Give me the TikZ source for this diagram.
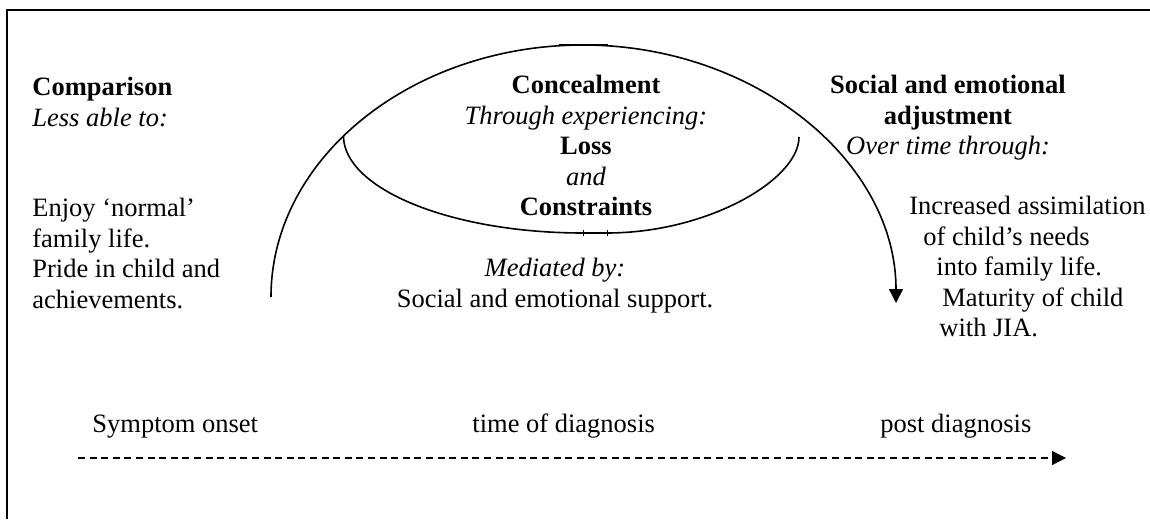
\documentclass[tikz,border=0pt]{standalone}
\usepackage{fontspec}
\setmainfont{Liberation Serif}
\usetikzlibrary{arrows.meta,positioning}

\begin{document}
\begin{tikzpicture}[
    x=0.5pt,y=-0.5pt,
    >={Triangle[length=7pt,width=7pt]},
    txt/.style={font=\fontsize{13.25}{15.25}\selectfont,inner sep=0pt},
    curve/.style={line width=0.8pt},
    timeline/.style={line width=0.6pt,dash pattern=on 3.5pt off 2.3pt}]
    \useasboundingbox (0,0) rectangle (1150,519);

    % frame
    \draw[line width=0.8pt] (7,519) -- (7,10) -- (1150,10);

    % outer arc and inner bowl
    \coordinate (A1) at (271,297);
    \coordinate (A2) at (583,45);
    \coordinate (A3) at (896,303);
    \draw[curve,->] (A1) .. controls (271,158) and (412,45) .. coordinate[pos=0.44] (I1) (A2)
        .. controls (755,45) and (896,161) .. (A3);
    \draw[line width=1.3pt] (559,45) -- (608,45);

    \coordinate (I2) at (583,233);
    \coordinate (I3) at (607,233);
    \coordinate (I4) at (799,137);
    \draw[curve] (I1) .. controls (344,189) and (451,233) .. (I2) -- (I3)
        .. controls (707,233) and (799,180) .. (I4);
    \draw[line width=0.3pt] (583,230) -- (583,236) (607,230) -- (607,236);

    % text blocks
    \node[txt,anchor=north west,align=left] (CmpH) at (32,74)
        {\strut\textbf{Comparison}\\\textit{Less able to:}};
    \node[txt,anchor=north west,align=left] (CmpT) at (32,195)
        {\strut Enjoy ‘normal’\\family life.\\Pride in child and\\achievements.};
    \node[txt,anchor=north,align=center] (ConH) at (586,72)
        {\strut\textbf{Concealment}\\\textit{Through experiencing:}\\\textbf{Loss}\\\textit{and}\\\textbf{Constraints}};
    \node[txt,anchor=north,align=center] (MedT) at (555,255)
        {\strut\textit{Mediated by:}\\Social and emotional support.};
    \node[txt,anchor=north,align=center] (AdjH) at (948,72)
        {\strut\textbf{Social and emotional}\\\textbf{adjustment}\\\textit{Over time through:}};
    \node[txt,anchor=north west,align=left] (AdjT) at (909,193)
        {\strut Increased assimilation\\\hspace*{7pt}of child’s needs\\\hspace*{13.5pt}into family life.\\
         \hspace*{16.5pt}Maturity of child\\\hspace*{15pt}with JIA.};

    % time line
    \node[txt,anchor=base west] (T1) at (92,432) {Symptom onset};
    \node[txt,anchor=base west] (T2) at (472,432) {time of diagnosis};
    \node[txt,anchor=base west] (T3) at (880,432) {post diagnosis};
    \coordinate (D1) at (78,458);
    \coordinate (D2) at (1066,458);
    \draw[timeline,->] (D1) -- (D2);
\end{tikzpicture}
\end{document}
